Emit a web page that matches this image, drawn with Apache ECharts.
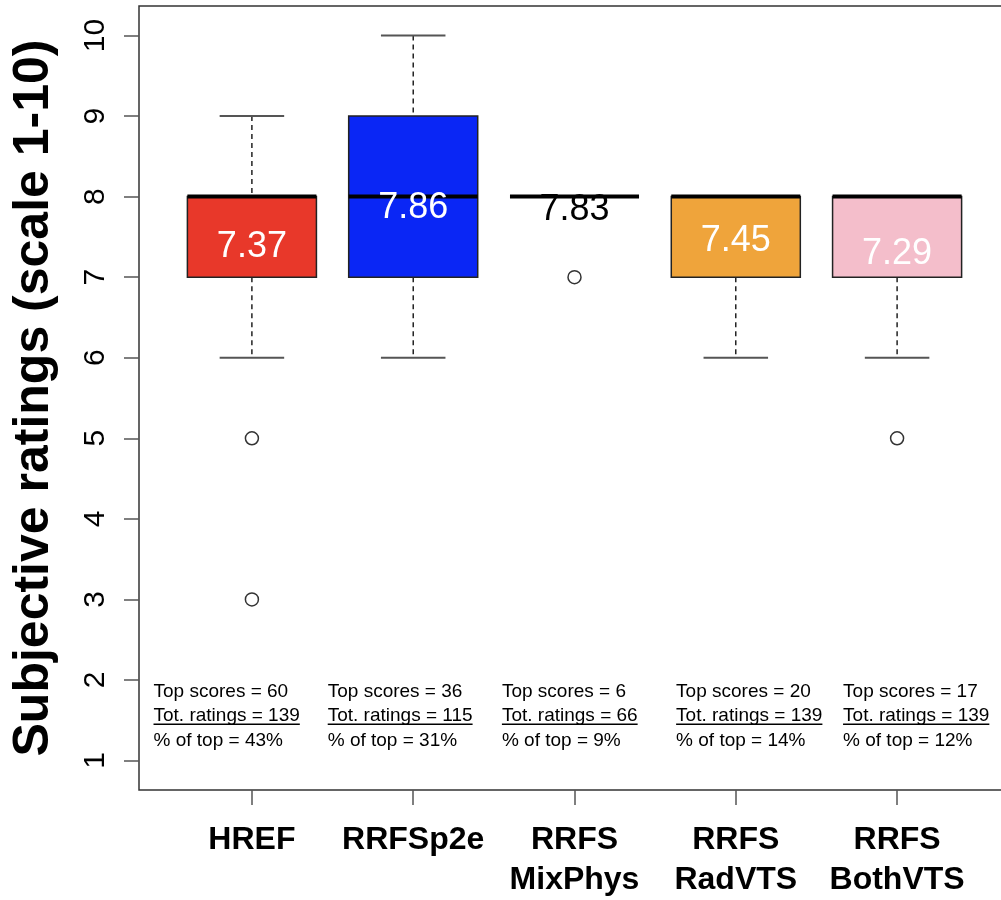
<!DOCTYPE html>
<html>
<head>
<meta charset="utf-8">
<script src="https://cdn.jsdelivr.net/npm/echarts@6/dist/echarts.min.js"></script>
<style>
html,body{margin:0;padding:0;background:#fff;overflow:hidden;}
#chart{width:1012px;height:900px;}
</style>
</head>
<body>
<div id="chart"></div>
<script>
// ---- data ----
const categories = ['HREF', 'RRFSp2e', 'RRFS\nMixPhys', 'RRFS\nRadVTS', 'RRFS\nBothVTS'];
const whiskerLow  = [6, 6, 8, 6, 6];
const q1          = [7, 7, 8, 7, 7];
const median      = [8, 8, 8, 8, 8];
const q3          = [8, 9, 8, 8, 8];
const whiskerHigh = [9, 10, 8, 8, 8];
const means       = [7.37, 7.86, 7.83, 7.45, 7.29];
const outlierCat  = [1, 1, 3, 5];
const outlierVal  = [5, 3, 7, 5];
const topScores   = [60, 36, 6, 20, 17];
const totRatings  = [139, 115, 66, 139, 139];
const pctTop      = [43, 31, 9, 14, 12];
const yTicks      = [1, 2, 3, 4, 5, 6, 7, 8, 9, 10];

// ---- styling / layout ----
const boxColors   = ['#E8382A', '#0A26F5', '#FFFFFF', '#EFA43B', '#F4BECB'];
const meanColors  = ['#FFFFFF', '#FFFFFF', '#000000', '#FFFFFF', '#FFFFFF'];
const annotX      = [0.39, 1.47, 2.55, 3.63, 4.665];
const annotY      = 1.55;
const FONT = '"Liberation Sans", Arial, Helvetica, sans-serif';

const boxData = categories.map((c, i) => [i + 1, whiskerLow[i], q1[i], median[i], q3[i], whiskerHigh[i], means[i]]);
const outlierData = outlierCat.map((c, i) => [c, outlierVal[i]]);
const annotData = categories.map((c, i) => [annotX[i], annotY, i]);

const measureCtx = document.createElement('canvas').getContext('2d');
function textWidth(t, font) { measureCtx.font = font; return measureCtx.measureText(t).width; }

const chart = echarts.init(document.getElementById('chart'), null, { renderer: 'canvas' });

const option = {
  animation: false,
  backgroundColor: '#fff',
  grid: { left: 139, width: 871, top: 6, height: 784, show: true, borderColor: '#333', borderWidth: 1.5, backgroundColor: 'transparent' },
  xAxis: {
    type: 'value', min: 0.3, max: 5.7,
    axisLine: { show: false },
    splitLine: { show: false },
    axisTick: { show: true, customValues: [1, 2, 3, 4, 5], length: 15, lineStyle: { color: '#555', width: 1.5 } },
    axisLabel: {
      customValues: [1, 2, 3, 4, 5],
      formatter: v => categories[Math.round(v) - 1],
      margin: 30, fontSize: 32, fontWeight: 'bold', color: '#000', fontFamily: FONT, lineHeight: 40
    }
  },
  yAxis: {
    type: 'value', min: 0.634, max: 10.366,
    name: 'Subjective ratings (scale 1-10)', nameLocation: 'middle', nameRotate: 90, nameGap: 80,
    nameTextStyle: { fontSize: 50, fontWeight: 'bold', color: '#000', fontFamily: FONT },
    axisLine: { show: false },
    splitLine: { show: false },
    axisTick: { show: true, customValues: yTicks, length: 15, lineStyle: { color: '#555', width: 1.5 } },
    axisLabel: { customValues: yTicks, rotate: 90, margin: 28, fontSize: 30, color: '#000', fontFamily: FONT }
  },
  series: [
    {
      type: 'custom',
      data: boxData,
      encode: { x: 0, y: [1, 2, 3, 4, 5] },
      renderItem: function (params, api) {
        const i = params.dataIndex;
        const x = api.value(0);
        const lo = api.value(1), a = api.value(2), m = api.value(3), b = api.value(4), hi = api.value(5), mean = api.value(6);
        const cx = api.coord([x, m])[0];
        const half = (api.coord([x + 0.4, m])[0] - api.coord([x - 0.4, m])[0]) / 2;
        const yLo = api.coord([x, lo])[1], yA = api.coord([x, a])[1], yM = api.coord([x, m])[1];
        const yB = api.coord([x, b])[1], yHi = api.coord([x, hi])[1], yMean = api.coord([x, mean])[1];
        const children = [];
        const dash = { stroke: '#000', lineWidth: 1.3, lineDash: [5, 4] };
        if (hi > b) children.push({ type: 'line', shape: { x1: cx, y1: yHi, x2: cx, y2: yB }, style: dash });
        if (lo < a) children.push({ type: 'line', shape: { x1: cx, y1: yA, x2: cx, y2: yLo }, style: dash });
        children.push({ type: 'line', shape: { x1: cx - half / 2, y1: yHi, x2: cx + half / 2, y2: yHi }, style: { stroke: '#555', lineWidth: 2 } });
        children.push({ type: 'line', shape: { x1: cx - half / 2, y1: yLo, x2: cx + half / 2, y2: yLo }, style: { stroke: '#555', lineWidth: 2 } });
        if (b > a) {
          children.push({ type: 'rect', shape: { x: cx - half, y: yB, width: 2 * half, height: yA - yB }, style: { fill: boxColors[i], stroke: '#222', lineWidth: 1.5 } });
        }
        children.push({ type: 'line', shape: { x1: cx - half, y1: yM, x2: cx + half, y2: yM }, style: { stroke: '#000', lineWidth: 4 } });
        children.push({ type: 'text', style: { text: mean.toFixed(2), x: cx, y: yMean, align: 'center', verticalAlign: 'middle', fill: meanColors[i], font: '36px ' + FONT } });
        return { type: 'group', children: children };
      },
      z: 2
    },
    {
      type: 'scatter',
      data: outlierData,
      symbol: 'circle',
      symbolSize: 13,
      itemStyle: { color: '#fff', borderColor: '#000', borderWidth: 1.5 },
      z: 3
    },
    {
      type: 'custom',
      data: annotData,
      encode: { x: 0, y: 1 },
      renderItem: function (params, api) {
        const i = api.value(2);
        const p = api.coord([api.value(0), api.value(1)]);
        const font = '19px ' + FONT;
        const lines = ['Top scores = ' + topScores[i], 'Tot. ratings = ' + totRatings[i], '% of top = ' + pctTop[i] + '%'];
        const gap = 24.8;
        const children = lines.map((t, k) => ({
          type: 'text',
          style: { text: t, x: p[0], y: p[1] + (k - 1) * gap, align: 'left', verticalAlign: 'middle', fill: '#000', font: font }
        }));
        const w = textWidth(lines[1], font);
        children.push({ type: 'line', shape: { x1: p[0], y1: p[1] + 8, x2: p[0] + w, y2: p[1] + 8 }, style: { stroke: '#000', lineWidth: 1.6 } });
        return { type: 'group', children: children };
      },
      z: 4
    }
  ]
};
chart.setOption(option);
</script>
</body>
</html>
